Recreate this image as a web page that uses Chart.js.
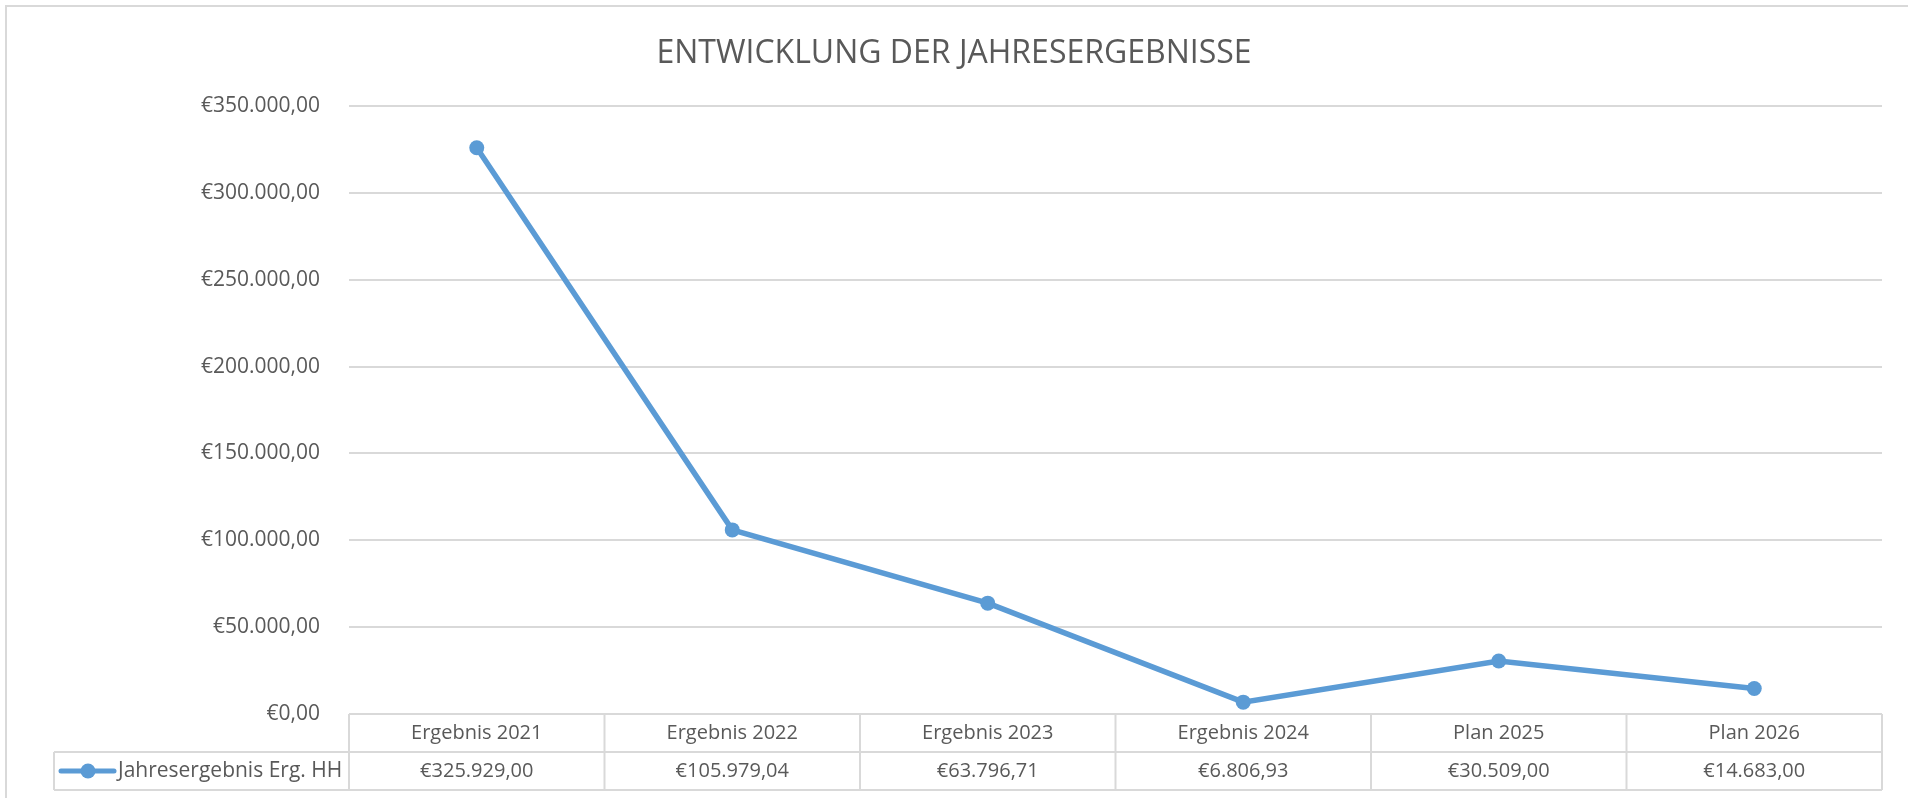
<!DOCTYPE html>
<html>
<head>
<meta charset="utf-8">
<script src="https://cdn.jsdelivr.net/npm/chart.js@4/dist/chart.umd.min.js"></script>
<style>
html,body{margin:0;padding:0;background:#fff;}
#wrap{width:1908px;height:798px;position:relative;}
</style>
</head>
<body>
<div id="wrap"><canvas id="c"></canvas></div>
<script>
const chartTitle = 'ENTWICKLUNG DER JAHRESERGEBNISSE';
const categories = ['Ergebnis 2021', 'Ergebnis 2022', 'Ergebnis 2023', 'Ergebnis 2024', 'Plan 2025', 'Plan 2026'];
const seriesName = 'Jahresergebnis Erg. HH';
const seriesValues = [325929.00, 105979.04, 63796.71, 6806.93, 30509.00, 14683.00];
const yMin = 0, yMax = 350000, yStep = 50000;

const FONT = "'Open Sans', sans-serif";
const TXT = '#595959';
const GRID = '#d9d9d9';
const BLUE = '#5b9bd5';

function euro(v) {
  const s = Math.abs(v).toFixed(2);
  let [i, d] = s.split('.');
  i = i.replace(/\B(?=(\d{3})+(?!\d))/g, '.');
  return (v < 0 ? '-' : '') + '€' + i + ',' + d;
}

const tablePlugin = {
  id: 'tablePlugin',
  beforeDraw(chart) {
    const ctx = chart.ctx;
    ctx.save();
    ctx.fillStyle = '#fff';
    ctx.fillRect(0, 0, chart.width, chart.height);
    ctx.strokeStyle = GRID;
    ctx.lineWidth = 2;
    ctx.strokeRect(6, 6, chart.width + 20, chart.height + 20);
    // title
    ctx.fillStyle = TXT;
    ctx.font = '32px ' + FONT;
    ctx.textAlign = 'center';
    ctx.textBaseline = 'middle';
    ctx.fillText(chartTitle, chart.width / 2, 54);
    ctx.restore();
  },
  afterDraw(chart) {
    const ctx = chart.ctx;
    const ca = chart.chartArea;
    const xs = chart.scales.x;
    const top = ca.bottom;
    const rowH = 38;
    const mid = top + rowH;
    const bot = mid + rowH;
    const legLeft = 54;
    const n = categories.length;
    const cw = (ca.right - ca.left) / n;
    ctx.save();
    ctx.strokeStyle = GRID;
    ctx.lineWidth = 2;
    ctx.beginPath();
    ctx.moveTo(ca.left, top); ctx.lineTo(ca.right, top);
    ctx.moveTo(legLeft, mid); ctx.lineTo(ca.right, mid);
    ctx.moveTo(legLeft, bot); ctx.lineTo(ca.right, bot);
    ctx.moveTo(legLeft, mid); ctx.lineTo(legLeft, bot);
    for (let i = 0; i <= n; i++) {
      const x = ca.left + i * cw;
      ctx.moveTo(x, top); ctx.lineTo(x, bot);
    }
    ctx.stroke();
    // values row
    ctx.fillStyle = TXT;
    ctx.font = '20px ' + FONT;
    ctx.textAlign = 'center';
    ctx.textBaseline = 'middle';
    const cy = mid + rowH / 2;
    seriesValues.forEach((v, i) => {
      ctx.fillText(euro(v), xs.getPixelForValue(i), cy);
    });
    // legend key
    ctx.strokeStyle = BLUE;
    ctx.lineWidth = 5;
    ctx.lineCap = 'round';
    ctx.beginPath();
    ctx.moveTo(61, cy); ctx.lineTo(114, cy);
    ctx.stroke();
    ctx.fillStyle = BLUE;
    ctx.beginPath();
    ctx.arc(88, cy, 7.5, 0, Math.PI * 2);
    ctx.fill();
    ctx.fillStyle = TXT;
    ctx.font = '21px ' + FONT;
    ctx.textAlign = 'left';
    ctx.fillText(seriesName, 118, cy);
    ctx.restore();
  }
};

new Chart(document.getElementById('c'), {
  type: 'line',
  data: {
    labels: categories,
    datasets: [{
      label: seriesName,
      data: seriesValues,
      borderColor: BLUE,
      backgroundColor: BLUE,
      borderWidth: 5.5,
      pointRadius: 7.5,
      pointHoverRadius: 7.5,
      pointBackgroundColor: BLUE,
      pointBorderColor: BLUE,
      pointBorderWidth: 0,
      tension: 0,
      clip: false
    }]
  },
  options: {
    responsive: true,
    maintainAspectRatio: false,
    animation: false,
    events: [],
    layout: { padding: { left: 0, right: 26, top: 106, bottom: 0 } },
    plugins: {
      legend: { display: false },
      tooltip: { enabled: false },
      title: { display: false }
    },
    scales: {
      x: {
        type: 'category',
        offset: true,
        grid: { display: false, drawTicks: false },
        border: { display: false },
        ticks: { color: TXT, font: { family: FONT, size: 20 }, padding: 7, maxRotation: 0, autoSkip: false },
        afterFit(s) { s.height = 84; }
      },
      y: {
        min: yMin,
        max: yMax,
        grid: { color: GRID, lineWidth: 2, drawTicks: false, tickLength: 0 },
        border: { display: false },
        ticks: {
          stepSize: yStep,
          color: TXT,
          font: { family: FONT, size: 21 },
          padding: 29,
          callback: (v) => euro(v)
        },
        afterFit(s) { s.width = 349; }
      }
    }
  },
  plugins: [tablePlugin]
});
</script>
</body>
</html>
